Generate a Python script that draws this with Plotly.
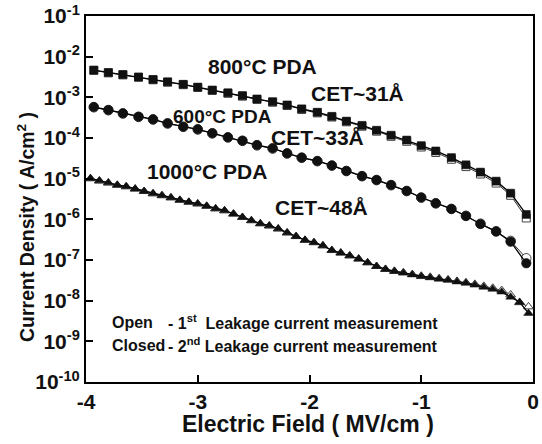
import plotly.graph_objects as go

# ---------------- data ----------------
E_800 = [-3.93, -3.80, -3.67, -3.53, -3.40, -3.27, -3.13, -3.00, -2.87, -2.73,
         -2.60, -2.47, -2.33, -2.20, -2.07, -1.93, -1.80, -1.67, -1.53, -1.40,
         -1.27, -1.13, -1.00, -0.87, -0.73, -0.60, -0.47, -0.33, -0.20, -0.06]
J_800_closed = [4.68e-3, 4.07e-3, 3.63e-3, 3.16e-3, 2.75e-3, 2.40e-3, 2.09e-3, 1.78e-3, 1.51e-3, 1.29e-3,
                1.10e-3, 9.1e-4, 7.8e-4, 6.5e-4, 5.2e-4, 4.3e-4, 3.4e-4, 2.6e-4, 2.04e-4, 1.55e-4,
                1.17e-4, 8.9e-5, 6.5e-5, 4.8e-5, 3.3e-5, 2.19e-5, 1.45e-5, 8.7e-6, 4.4e-6, 1.32e-6]
J_800_open = [4.60e-3, 4.00e-3, 3.57e-3, 3.11e-3, 2.70e-3, 2.36e-3, 2.05e-3, 1.75e-3, 1.48e-3, 1.26e-3,
              1.07e-3, 8.9e-4, 7.6e-4, 6.3e-4, 5.05e-4, 4.15e-4, 3.28e-4, 2.5e-4, 1.95e-4, 1.47e-4,
              1.10e-4, 8.3e-5, 6.0e-5, 4.4e-5, 3.0e-5, 1.98e-5, 1.30e-5, 7.8e-6, 3.9e-6, 1.08e-6]

E_600 = [-3.93, -3.80, -3.67, -3.53, -3.40, -3.27, -3.13, -3.00, -2.87, -2.73,
         -2.60, -2.47, -2.33, -2.20, -2.07, -1.93, -1.80, -1.67, -1.53, -1.40,
         -1.27, -1.13, -1.00, -0.87, -0.73, -0.60, -0.47, -0.33, -0.20, -0.06]
J_600_closed = [5.78e-4, 4.89e-4, 4.05e-4, 3.34e-4, 2.88e-4, 2.30e-4, 1.90e-4, 1.64e-4, 1.31e-4, 1.04e-4,
                8.6e-5, 6.7e-5, 5.6e-5, 4.2e-5, 3.3e-5, 2.72e-5, 2.11e-5, 1.55e-5, 1.16e-5, 9.3e-6,
                7.0e-6, 5.0e-6, 3.44e-6, 2.48e-6, 1.80e-6, 1.21e-6, 7.7e-7, 5.0e-7, 2.82e-7, 8.3e-8]
J_600_open = [5.70e-4, 4.82e-4, 4.00e-4, 3.30e-4, 2.84e-4, 2.27e-4, 1.88e-4, 1.62e-4, 1.30e-4, 1.03e-4,
              8.5e-5, 6.6e-5, 5.5e-5, 4.15e-5, 3.26e-5, 2.69e-5, 2.09e-5, 1.54e-5, 1.15e-5, 9.2e-6,
              6.9e-6, 4.95e-6, 3.42e-6, 2.47e-6, 1.80e-6, 1.22e-6, 7.8e-7, 5.1e-7, 2.95e-7, 1.10e-7]

E_1000 = [-3.96, -3.88, -3.80, -3.72, -3.64, -3.56, -3.48, -3.40, -3.32, -3.24,
          -3.16, -3.08, -3.00, -2.92, -2.84, -2.76, -2.68, -2.60, -2.52, -2.44,
          -2.36, -2.28, -2.20, -2.12, -2.04, -1.96, -1.88, -1.80, -1.72, -1.64,
          -1.56, -1.48, -1.40, -1.32, -1.24, -1.16, -1.08, -1.00, -0.92, -0.84,
          -0.76, -0.68, -0.60, -0.52, -0.44, -0.36, -0.28, -0.20, -0.12, -0.04]
J_1000_closed = [1.02e-5, 8.9e-6, 7.96e-6, 7.0e-6, 6.43e-6, 5.64e-6, 4.92e-6, 4.32e-6, 3.88e-6, 3.43e-6,
                 2.99e-6, 2.67e-6, 2.43e-6, 2.13e-6, 1.84e-6, 1.65e-6, 1.37e-6, 1.13e-6, 9.4e-7, 7.9e-7,
                 6.98e-7, 5.89e-7, 4.70e-7, 3.83e-7, 3.10e-7, 2.71e-7, 2.26e-7, 1.74e-7, 1.50e-7, 1.28e-7,
                 1.07e-7, 8.6e-8, 7.0e-8, 5.92e-8, 5.28e-8, 4.80e-8, 4.33e-8, 3.94e-8, 3.68e-8, 3.40e-8,
                 3.19e-8, 2.91e-8, 2.70e-8, 2.43e-8, 2.15e-8, 1.92e-8, 1.64e-8, 1.23e-8, 9.2e-9, 4.9e-9]
J_1000_open = [1.00e-5, 8.8e-6, 7.85e-6, 6.9e-6, 6.35e-6, 5.57e-6, 4.86e-6, 4.27e-6, 3.83e-6, 3.39e-6,
               2.95e-6, 2.64e-6, 2.40e-6, 2.10e-6, 1.82e-6, 1.63e-6, 1.35e-6, 1.12e-6, 9.3e-7, 7.8e-7,
               6.9e-7, 5.82e-7, 4.65e-7, 3.79e-7, 3.07e-7, 2.68e-7, 2.24e-7, 1.72e-7, 1.49e-7, 1.27e-7,
               1.06e-7, 8.6e-8, 7.0e-8, 5.95e-8, 5.35e-8, 4.90e-8, 4.45e-8, 4.05e-8, 3.80e-8, 3.52e-8,
               3.30e-8, 3.02e-8, 2.80e-8, 2.55e-8, 2.28e-8, 2.05e-8, 1.80e-8, 1.40e-8, 9.0e-9, 7.1e-9]

y_tick_vals = [1e-10, 1e-9, 1e-8, 1e-7, 1e-6, 1e-5, 1e-4, 1e-3, 1e-2, 1e-1]
y_tick_text = ["<b>10<sup>-10</sup></b>", "<b>10<sup>-9</sup></b>", "<b>10<sup>-8</sup></b>",
               "<b>10<sup>-7</sup></b>", "<b>10<sup>-6</sup></b>", "<b>10<sup>-5</sup></b>",
               "<b>10<sup>-4</sup></b>", "<b>10<sup>-3</sup></b>", "<b>10<sup>-2</sup></b>",
               "<b>10<sup>-1</sup></b>"]
x_tick_vals = [-4, -3, -2, -1, 0]
x_tick_text = ["<b>-4</b>", "<b>-3</b>", "<b>-2</b>", "<b>-1</b>", "<b>0</b>"]

# ---------------- figure ----------------
FONT = "Liberation Sans, Arial, Helvetica, sans-serif"
INK = "#111111"
fig = go.Figure()

series = [
    (E_800, J_800_open, J_800_closed, "square", 8),
    (E_600, J_600_open, J_600_closed, "circle", 9.5),
    (E_1000, J_1000_open, J_1000_closed, "triangle-up", 8.5),
]
for E, Jo, Jc, sym, sz in series:
    fig.add_trace(go.Scatter(
        x=E, y=Jo, mode="lines+markers",
        line=dict(color="#333333", width=1),
        marker=dict(symbol=sym, size=sz, color="white",
                    line=dict(color="#444444", width=1)),
        showlegend=False, hoverinfo="skip"))
    fig.add_trace(go.Scatter(
        x=E, y=Jc, mode="lines+markers",
        line=dict(color="black", width=1.3),
        marker=dict(symbol=sym, size=sz, color=INK,
                    line=dict(color=INK, width=0.5)),
        showlegend=False, hoverinfo="skip"))

L, R, T, B = 86, 533, 16, 382


def px(x):
    return (x - L) / (R - L)


def py(y):
    return 1 - (y - T) / (B - T)


def ann(text, x, y, size, xanchor="center", angle=0):
    fig.add_annotation(text="<b>" + text + "</b>", x=px(x), y=py(y),
                       xref="paper", yref="paper", showarrow=False,
                       xanchor=xanchor, yanchor="middle", textangle=angle,
                       font=dict(family=FONT, size=size, color=INK))


ann("800°C PDA", 262, 66, 21)
ann("CET~31Å", 357, 93, 21)
ann("600°C PDA", 222, 116, 19)
ann("CET~33Å", 317, 138, 21)
ann("1000°C PDA", 207, 171, 21)
ann("CET~48Å", 321, 207, 21)
ann("Open", 110, 322, 16, "left")
ann("- 1<sup>st</sup>  Leakage current measurement", 166, 322, 16, "left")
ann("Closed", 110, 345, 16, "left")
ann("- 2<sup>nd</sup> Leakage current measurement", 166, 345, 16, "left")
# axis titles
ann("Electric Field ( MV/cm )", 308, 424, 23)
ann("Current Density ( A/cm<sup>2</sup> )", 26, 227, 19.5, angle=-90)

fig.update_xaxes(
    range=[-4, 0], tickvals=x_tick_vals, ticktext=x_tick_text,
    ticks="inside", ticklen=7, tickwidth=2, tickcolor="black",
    showline=True, linecolor="black", linewidth=2, mirror=True,
    showgrid=False, zeroline=False, automargin=False,
    tickfont=dict(family=FONT, size=21, color=INK))
fig.update_yaxes(
    type="log", range=[-10, -1], tickvals=y_tick_vals, ticktext=y_tick_text,
    ticks="inside", ticklen=7, tickwidth=2, tickcolor="black",
    showline=True, linecolor="black", linewidth=2, mirror=True,
    showgrid=False, zeroline=False, automargin=False,
    tickfont=dict(family=FONT, size=21, color=INK))

fig.update_layout(
    width=542, height=444,
    margin=dict(l=L, r=542 - R, t=T, b=444 - B),
    paper_bgcolor="white", plot_bgcolor="white",
    font=dict(family=FONT, color=INK))

fig.write_html("out.html", config={"displayModeBar": False, "staticPlot": True},
               post_script="document.body.style.margin='0px';document.body.style.overflow='hidden';")
